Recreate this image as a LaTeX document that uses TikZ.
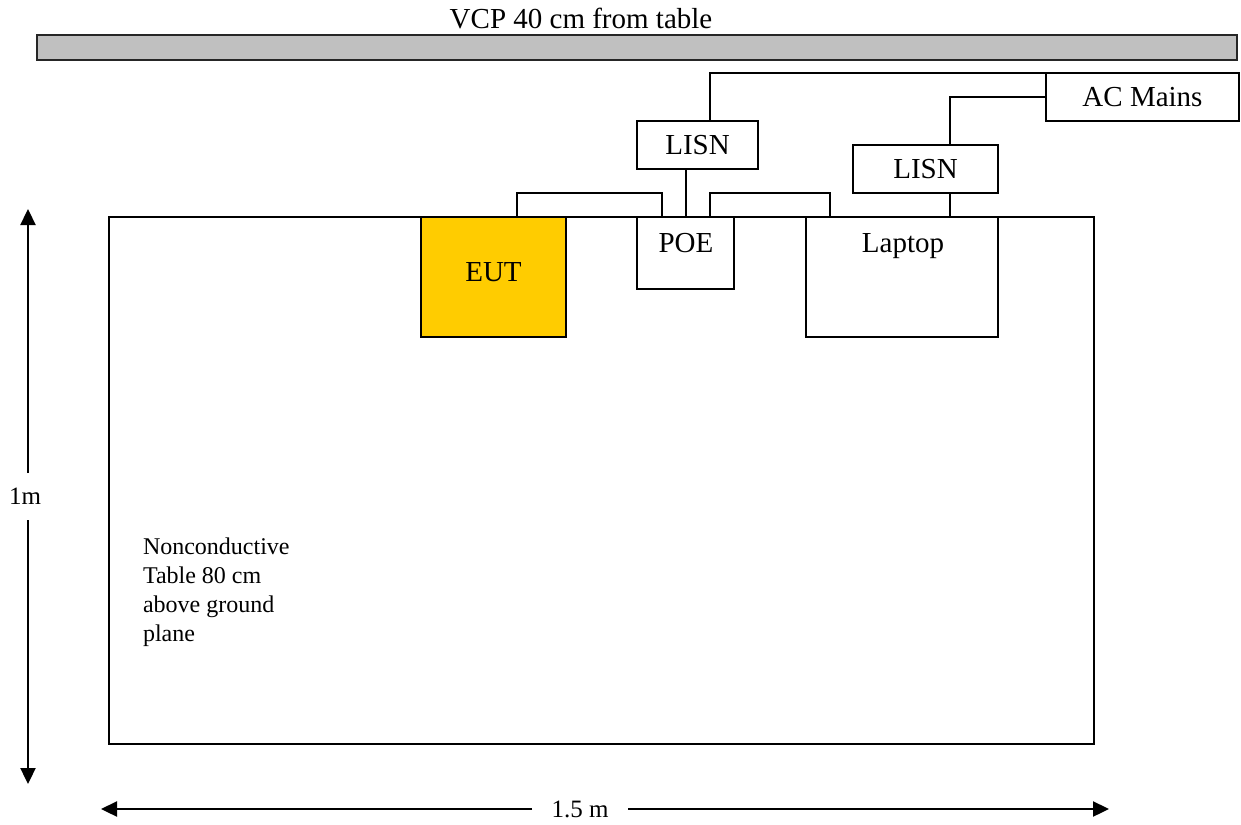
\documentclass[tikz,border=0pt]{standalone}
\usepackage{fontspec}
\setmainfont{Liberation Serif}
\usetikzlibrary{arrows.meta,calc}
\definecolor{eutgold}{HTML}{FFCC00}
\definecolor{planegray}{HTML}{C0C0C0}
\begin{document}
\begin{tikzpicture}[x=1pt,y=-1pt,
  box/.style={draw=black,line width=1.8pt,fill=white,inner sep=0pt,outer sep=0pt,font=\fontsize{29}{35}\selectfont},
  wire/.style={draw=black,line width=1.8pt},
  lbl/.style={inner sep=0pt,outer sep=0pt,font=\fontsize{29}{35}\selectfont},
  dimarrow/.style={line width=2.3pt,-{Triangle[length=16pt,width=15pt]}},
  dimlbl/.style={inner sep=0pt,outer sep=0pt,font=\fontsize{25}{30}\selectfont}]
\useasboundingbox (0,0) rectangle (1241,824);

% vertical conducting plane
\node[lbl,anchor=base] (vcplbl) at (581,29) {VCP 40 cm from table};
\node[draw=black!85,line width=2pt,fill=planegray,inner sep=0pt,
      minimum width=1200pt,minimum height=25pt] (vcp) at (637,47.5) {};

% table and equipment
\node[box,minimum width=985pt,minimum height=527pt] (table) at (601.5,480.5) {};
\node[box,fill=eutgold,minimum width=145pt,minimum height=120pt] (eut) at (493.5,277) {};
\node[lbl] (eutlbl) at (493.5,272) {EUT};
\node[box,minimum width=97pt,minimum height=72pt] (poe) at (685.5,253) {};
\node[lbl,anchor=base] (poelbl) at (686,252) {POE};
\node[box,minimum width=192pt,minimum height=120pt] (laptop) at (902,277) {};
\node[lbl,anchor=base] (laptoplbl) at (903,252) {Laptop};
\node[box,minimum width=121pt,minimum height=48pt] (lisnA) at (697.5,145) {LISN};
\node[box,minimum width=145pt,minimum height=48pt] (lisnB) at (925.5,169) {LISN};
\node[box,minimum width=193pt,minimum height=48pt] (mains) at (1142.5,97) {AC Mains};

% cables
\draw[wire] ([xshift=96pt]eut.north west) -- ++(0,-24) -| ([xshift=25pt]poe.north west);
\draw[wire] ([xshift=73pt]poe.north west) -- ++(0,-24) -| ([xshift=24pt]laptop.north west);
\draw[wire] ([xshift=0.5pt]poe.north) -- ++(0,-48);
\draw[wire] ([xshift=73pt]lisnA.north west) |- (mains.north west);
\draw[wire] ([xshift=97pt]lisnB.north west) |- (mains.west);
\draw[wire] ([xshift=97pt]lisnB.south west) -- ++(0,24);

% table note
\node[dimlbl,anchor=north west,align=left,font=\fontsize{24}{29}\selectfont] (note) at (143,538)
  {Nonconductive\\Table 80 cm\\above ground\\plane};

% dimensions
\coordinate (vtop) at (28,209);
\coordinate (vbot) at (28,784);
\node[dimlbl,minimum height=47pt] (onem) at (25,496.5) {1m};
\draw[dimarrow] (vtop |- onem.north) -- (vtop);
\draw[dimarrow] (vbot |- onem.south) -- (vbot);

\coordinate (hleft) at (101,809);
\coordinate (hright) at (1109,809);
\node[dimlbl,minimum width=96pt] (widthlbl) at (580,809) {1.5 m};
\draw[dimarrow] (hleft -| widthlbl.west) -- (hleft);
\draw[dimarrow] (hright -| widthlbl.east) -- (hright);
\end{tikzpicture}
\end{document}
